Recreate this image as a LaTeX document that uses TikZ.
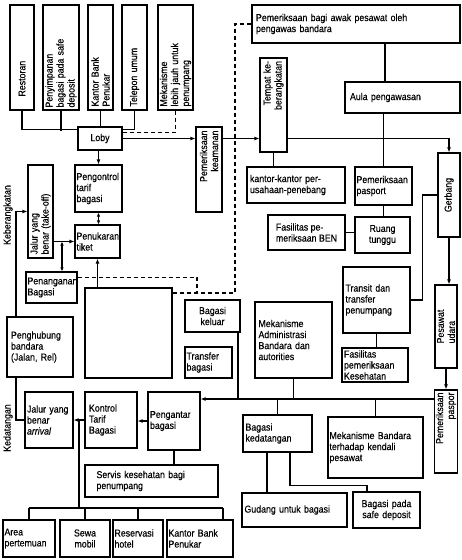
\documentclass[tikz,border=0pt]{standalone}
\usepackage{fontspec}
\setmainfont{Liberation Sans}[FakeStretch=0.88,FakeBold=0.3]
\usetikzlibrary{arrows.meta,calc}

\begin{document}
\begin{tikzpicture}[x=1pt,y=-1pt,
  kotak/.style 2 args={draw,line width=1.2pt,inner sep=1.5pt,align=left,
    font=\fontsize{10}{11}\selectfont,minimum width=#1pt,minimum height=#2pt},
  tegak/.style 2 args={kotak={#2}{#1},rotate=90},
  garis/.style={line width=1.2pt},
  tebal/.style={line width=1.8pt},
  putus/.style={line width=1.2pt,dash pattern=on 4pt off 3pt},
  panah/.style={-{Latex[length=5pt,width=4pt]}},
  panah2/.style={{Latex[length=4pt,width=3.5pt]}-{Latex[length=4pt,width=3.5pt]}}]
\useasboundingbox (0,0) rectangle (461,560);
\fill[white] (0,0) rectangle (461,560);

% fasilitas di sekitar loby
\node[tegak={24}{105},text width=98pt] (restoran) at (22,57.5) {\hspace{10pt}Restoran};
\node[tegak={36}{105},text width=100pt] (simpan) at (61,57.5) {Penyimpanan\\bagasi pada safe\\deposit};
\node[tegak={25}{105},text width=98pt] (bankA) at (100.5,57.5) {Kantor Bank\\Penukar};
\node[tegak={25}{105},text width=98pt] (telepon) at (134.5,57.5) {Telepon umum};
\node[tegak={35}{105},text width=98pt] (mekjauh) at (175.5,57.5) {Mekanisme\\lebih jauh untuk\\penumpang};
\node[kotak={44}{23}] (loby) at (100,138.5) {Loby};

% jalur keberangkatan
\node[tegak={26}{85},text width=78pt,align=right] (keamanan) at (209,169.5) {Pemeriksaan\\keamanan};
\node[tegak={27}{94},text width=88pt,align=right] (tempat) at (273.5,105) {Tempat ke-\\berangkatan};
\node[kotak={208}{38},text width=200pt] (awak) at (356,24) {Pemeriksaan bagi awak pesawat oleh\\pengawas bandara};
\node[kotak={115}{31},text width=105pt] (aula) at (402.5,97.5) {Aula pengawasan};
\node[tegak={22}{84}] (gerbang) at (449,195) {Gerbang};
\node[kotak={98}{36},text width=92pt] (kantorpp) at (296,185) {kantor-kantor per-\\usahaan-penebang};
\node[kotak={57}{38},text width=54pt] (paspor) at (383.5,186) {Pemeriksaan\\pasport};
\node[kotak={77}{35}] (ben) at (306.5,232.5) {Fasilitas pe-\\meriksaan BEN};
\node[kotak={55}{36},align=center] (ruang) at (382.5,235) {Ruang\\tunggu};
\node[kotak={47}{47},text width=44pt] (kontrolA) at (98.5,188.5) {Pengontrol\\tarif\\bagasi};
\node[tegak={25}{93},text width=86pt] (jalurA) at (40.5,211.5) {Jalur yang\\benar (take-off)};
\node[kotak={45}{33},text width=42pt] (tukar) at (97.5,241.5) {Penukaran\\tiket};
\node[kotak={51}{31},text width=48pt] (tangan) at (51.5,287.5) {Penanganan\\Bagasi};

% bagian tengah
\node[kotak={87}{90}] (besar) at (128.5,333) {};
\node[kotak={55}{32},align=center] (keluar) at (212.5,316) {Bagasi\\keluar};
\node[kotak={47}{31},text width=44pt] (transfer) at (208.5,362.5) {Transfer\\bagasi};
\node[kotak={77}{76},text width=70pt] (mekadm) at (293.5,340) {Mekanisme\\Administrasi\\Bandara dan\\autorities\\[10pt]};
\node[kotak={67}{66},text width=62pt] (transit) at (376.5,300) {Transit dan\\transfer\\penumpang\\[14pt]};
\node[kotak={66}{34},text width=62pt] (faskes) at (375,365) {Fasilitas\\pemeriksaan\\Kesehatan};
\node[tegak={22}{83}] (pesawat) at (446,326.5) {Pesawat\\udara};
\node[tegak={22}{83},text width=78pt,align=right] (paspor2) at (446,431.5) {Pemeriksaan\\paspor};

% jalur kedatangan
\node[kotak={66}{60},text width=58pt] (hubung) at (40,347) {Penghubung\\bandara\\(Jalan, Rel)};
\node[kotak={48}{56},text width=44pt] (jalurB) at (49,420) {Jalur yang\\benar\\\textit{arrival}};
\node[kotak={52}{56},text width=44pt] (kontrolB) at (111,420) {Kontrol\\Tarif\\Bagasi};
\node[kotak={52}{58},text width=48pt] (antar) at (174,421) {Pengantar\\bagasi};
\node[kotak={69}{37},text width=64pt] (kedatangan) at (277.5,433.5) {Bagasi\\kedatangan};
\node[kotak={95}{61},text width=92pt] (mekbandara) at (375.5,447.5) {Mekanisme Bandara\\terhadap kendali\\pesawat};
\node[kotak={105}{34},text width=100pt] (gudang) at (294.5,510) {Gudang untuk bagasi};
\node[kotak={67}{36},text width=56pt,align=center] (deposit) at (386.5,510) {Bagasi pada\\safe deposit};
\node[kotak={133}{32},text width=110pt] (servis) at (151.5,481) {Servis kesehatan bagi\\penumpang};
\node[kotak={52}{37},text width=49pt] (area) at (29,538.5) {Area\\pertemuan};
\node[kotak={50}{37},align=center] (sewa) at (85,538.5) {Sewa\\mobil};
\node[kotak={50}{37},text width=47pt] (hotel) at (138,538.5) {Reservasi\\hotel};
\node[kotak={66}{37},text width=63pt] (bankB) at (200,538.5) {Kantor Bank\\Penukar};

\node[rotate=90,font=\fontsize{10}{11}\selectfont] (berangkat) at (8,215) {Keberangkatan};
\node[rotate=90,font=\fontsize{10}{11}\selectfont] (datang) at (8,428) {Kedatangan};

\coordinate (sudut) at (235,293);
\coordinate (belok) at (197,293);
\coordinate (bus) at (0,399);
\coordinate (bawah) at (0,508);
\coordinate (simpul) at ($(jalurB.east)!.5!(kontrolB.west)$);

% sambungan loby
\draw[garis] (restoran.west) |- ([yshift=-3pt]loby.north west);
\draw[garis] (simpan.west) -- ++(0,20);
\draw[garis] (bankA.west) -- (bankA.west |- loby.north);
\draw[garis] (telepon.west) |- ([yshift=-3pt]loby.north east);
\draw[putus] (mekjauh.west) |- ([yshift=-6pt]loby.north east);
\draw[tebal,panah] (loby.east) -- (keamanan.north |- loby.east);
\draw[tebal,panah] (keamanan.south |- loby.east) -- (tempat.north |- loby.east);
\draw[tebal,panah] (tempat.south |- loby.east) -| (gerbang.east);
\draw[garis] ([xshift=-17.5pt]aula.north) -- ([xshift=-17.5pt]aula.north |- awak.south);
\draw[garis] (paspor.north) -- (paspor.north |- aula.south);
\draw[garis] (tempat.west) -- (tempat.west |- kantorpp.north);
\draw[garis] (paspor.south) -- (paspor.south |- ruang.north);
\draw[garis] (ben.east) -- (ben.east -| ruang.west);
\draw[garis] (gerbang.north) -- ++(-15,0) |- (transit.east);
\draw[garis,panah] (gerbang.west) -- (gerbang.west |- pesawat.east);
\draw[garis,panah] (pesawat.west) -- (paspor2.east);
\draw[garis] (transit.south) -- (transit.south |- faskes.north);

% sisi kiri atas
\draw[garis,panah] (kontrolA.north |- loby.south) -- (kontrolA.north);
\draw[garis,panah2] (kontrolA.south) -- (kontrolA.south |- tukar.north);
\draw[garis,panah] ([xshift=-24pt]hubung.north) |- (jalurA.north);
\draw[tebal,panah] (jalurA.south |- tukar.west) -- (tukar.west);
\draw[garis,panah2] ([xshift=10.5pt]tangan.north) -- ([xshift=10.5pt]tangan.north |- tukar.west);
\draw[garis,panah] (tukar.south |- besar.north) -- (tukar.south);

% garis putus-putus
\draw[putus] (awak.west) -| (sudut) -- (sudut -| besar.east);
\draw[putus] ([yshift=10pt]tangan.east) -| (belok);

% jalur bagasi kedatangan
\draw[tebal,panah] (paspor2.north |- bus) -- (antar.east |- bus);
\draw[garis] ([xshift=25.5pt]keluar.south) -- ([xshift=25.5pt]keluar.south |- bus);
\draw[garis] (mekadm.south) -- (mekadm.south |- bus);
\draw[garis] (kedatangan.north |- bus) -- (kedatangan.north);
\draw[garis] (mekbandara.north |- bus) -- (mekbandara.north);
\draw[garis] ([xshift=-10.5pt]kedatangan.south) -- ([xshift=-10.5pt]kedatangan.south |- gudang.north);
\draw[garis] ([xshift=12.5pt]kedatangan.south) -- ++(0,33) -| ([xshift=-19.5pt]deposit.north);
\draw[garis] (antar.south) -- (antar.south |- servis.north);
\draw[garis,panah] (antar.west) -- (antar.west -| kontrolB.east);
\draw[garis,panah] (kontrolB.west) -- (jalurB.east);
\draw[garis] ([xshift=-24pt]hubung.south) |- (jalurB.west);
\draw[garis] (simpul) -- (simpul |- bawah);
\draw[garis] (area.north |- bawah) -- ([xshift=23pt]bankB.north |- bawah);
\foreach \n in {area,sewa,hotel}
  \draw[garis] (\n.north) -- (\n.north |- bawah);
\draw[garis] ([xshift=23pt]bankB.north) -- ([xshift=23pt]bankB.north |- bawah);
\end{tikzpicture}
\end{document}
